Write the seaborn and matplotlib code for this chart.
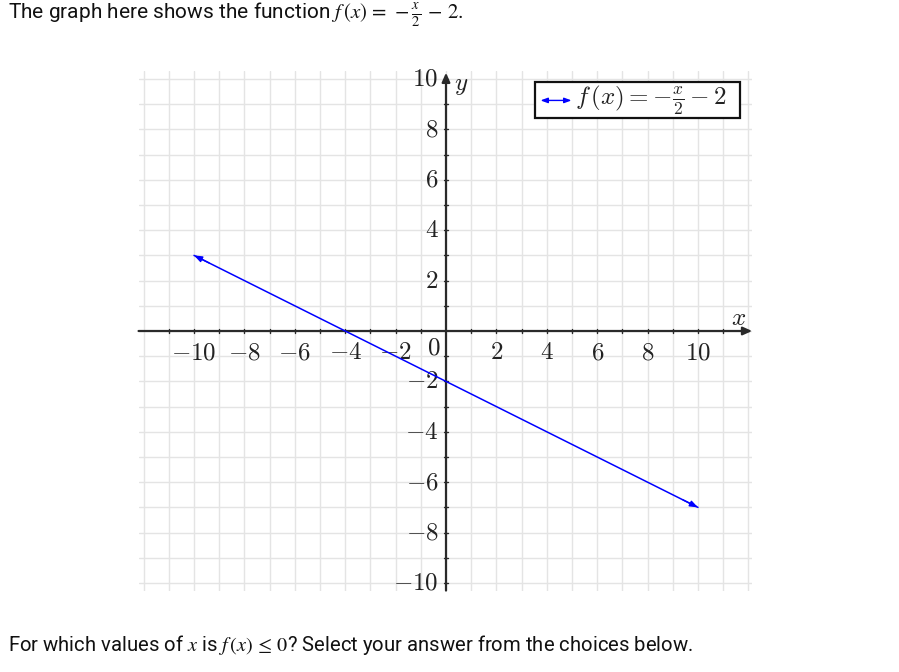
import numpy as np
import pandas as pd
import matplotlib
matplotlib.use("Agg")
import matplotlib.pyplot as plt
import seaborn as sns
from matplotlib.patches import Rectangle

# ---- data ----
line_x = [-10, 10]
line_y = [3, -7]
x_ticks = [-10, -8, -6, -4, -2, 2, 4, 6, 8, 10]
y_ticks = [-10, -8, -6, -4, -2, 2, 4, 6, 8, 10]
grid_vals = list(range(-12, 13))
legend_label = r"$f\,(x) = -\frac{x}{2} - 2$"
title_text = r"The graph here shows the function $f\,(x) \,=\, -\frac{x}{2}\, -\, 2$."
bottom_text = r"For which values of $x$ is $f\,(x) \,\leq\, 0$? Select your answer from the choices below."

sns.set_theme(style="white")
plt.rcParams['font.family'] = ['Roboto', 'DejaVu Sans']

fig = plt.figure(figsize=(8.99, 6.72), dpi=100)
fig.patch.set_facecolor("white")

xmin, xmax = -12.2, 12.15
ymin, ymax = -10.3, 10.3
px = 25.2
left_px = 446 + xmin * px
top_px = 331 - ymax * px
w_px = (xmax - xmin) * px
h_px = (ymax - ymin) * px
ax = fig.add_axes([left_px / 899, 1 - (top_px + h_px) / 672, w_px / 899, h_px / 672])
ax.set_xlim(xmin, xmax)
ax.set_ylim(ymin, ymax)
for s in ax.spines.values():
    s.set_visible(False)
ax.set_xticks([])
ax.set_yticks([])
ax.set_facecolor("white")

gc = "#e4e4e4"
for g in grid_vals:
    ax.axvline(g, color=gc, lw=1.0, zorder=0)
    ax.axhline(g, color=gc, lw=1.0, zorder=0)

axc = "#2a2a2a"
ax.annotate("", xy=(xmax, 0), xytext=(xmin, 0),
            arrowprops=dict(arrowstyle="-|>,head_length=0.45,head_width=0.2", lw=1.6, color=axc,
                            shrinkA=0, shrinkB=0), zorder=3)
ax.annotate("", xy=(0, 10.25), xytext=(0, ymin),
            arrowprops=dict(arrowstyle="-|>,head_length=0.45,head_width=0.2", lw=1.6, color=axc,
                            shrinkA=0, shrinkB=0), zorder=3)

# small tick marks at every integer
for g in range(-11, 12):
    if g == 0:
        continue
    ax.plot([g, g], [-0.09, 0.09], color=axc, lw=1.0, zorder=3)
for g in range(-10, 11):
    if g == 0:
        continue
    ax.plot([-0.09, 0.09], [g, g], color=axc, lw=1.0, zorder=3)

fs = 18
for t in x_ticks:
    ax.text(t, -0.85, f"${t}$", ha="center", va="center", fontsize=fs,
            math_fontfamily="cm", color="#222222", zorder=4)
for t in y_ticks:
    ax.text(-0.3, t, f"${t}$", ha="right", va="center", fontsize=fs,
            math_fontfamily="cm", color="#222222", zorder=4)
ax.text(-0.48, -0.67, "$0$", ha="center", va="center", fontsize=fs,
        math_fontfamily="cm", color="#222222", zorder=4)
ax.text(11.6, 0.5, "$x$", ha="center", va="center", fontsize=fs,
        math_fontfamily="cm", color="#222222")
ax.text(0.62, 9.75, "$y$", ha="center", va="center", fontsize=fs,
        math_fontfamily="cm", color="#222222")

# function line
df = pd.DataFrame({"x": line_x, "y": line_y})
sns.lineplot(data=df, x="x", y="y", ax=ax, color="blue", lw=1.1, zorder=5)
ax.annotate("", xy=(line_x[0], line_y[0]), xytext=(line_x[0] + 0.6, line_y[0] - 0.3),
            arrowprops=dict(arrowstyle="-|>,head_length=0.4,head_width=0.15", lw=1.0, color="blue",
                            shrinkA=0, shrinkB=0), zorder=5)
ax.annotate("", xy=(line_x[1], line_y[1]), xytext=(line_x[1] - 0.6, line_y[1] + 0.3),
            arrowprops=dict(arrowstyle="-|>,head_length=0.4,head_width=0.15", lw=1.0, color="blue",
                            shrinkA=0, shrinkB=0), zorder=5)
ax.set_xlabel("")
ax.set_ylabel("")

# legend box
ax.add_patch(Rectangle((3.53, 8.45), 11.67 - 3.53, 9.88 - 8.45, facecolor="white",
                       edgecolor="#111111", lw=1.6, zorder=6))
ax.annotate("", xy=(4.98, 9.15), xytext=(3.75, 9.15),
            arrowprops=dict(arrowstyle="<|-|>,head_length=0.35,head_width=0.13", lw=1.0, color="blue",
                            shrinkA=0, shrinkB=0), zorder=7)
ax.text(5.12, 9.15, legend_label, ha="left", va="center", fontsize=18,
        math_fontfamily="cm", color="#222222", zorder=7)

fig.text(8 / 899, 1 - 15 / 672, title_text, ha="left", va="center", fontsize=15,
         math_fontfamily="stix", color="#111111")
fig.text(8 / 899, 1 - 645 / 672, bottom_text, ha="left", va="center", fontsize=14.6,
         math_fontfamily="stix", color="#111111")

fig.savefig("out.png", dpi=100, facecolor="white")
